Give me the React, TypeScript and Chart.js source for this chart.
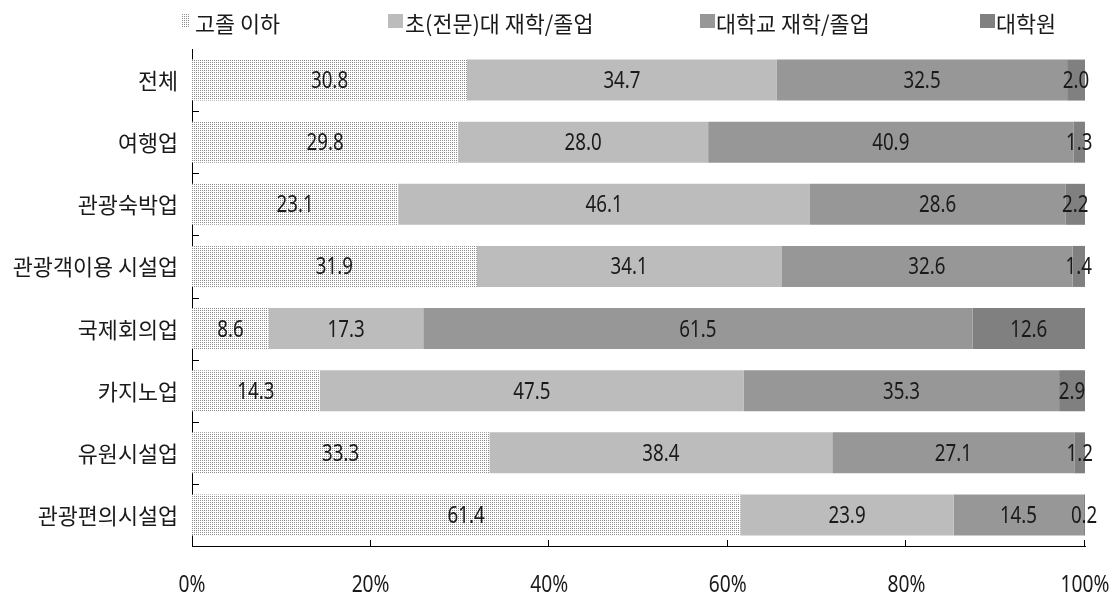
import React, { useEffect, useRef } from "react";
import { Chart, registerables } from "chart.js";

Chart.register(...registerables);

const categories = ["전체", "여행업", "관광숙박업", "관광객이용 시설업", "국제회의업", "카지노업", "유원시설업", "관광편의시설업"];
const seriesNames = ["고졸 이하", "초(전문)대 재학/졸업", "대학교 재학/졸업", "대학원"];
const highSchool = [30.8, 29.8, 23.1, 31.9, 8.6, 14.3, 33.3, 61.4];
const college = [34.7, 28.0, 46.1, 34.1, 17.3, 47.5, 38.4, 23.9];
const university = [32.5, 40.9, 28.6, 32.6, 61.5, 35.3, 27.1, 14.5];
const graduate = [2.0, 1.3, 2.2, 1.4, 12.6, 2.9, 1.2, 0.2];
const xTicks = [0, 20, 40, 60, 80, 100];

const KFONT = "'Noto Sans CJK KR', 'Noto Sans', sans-serif";
const NFONT = "'Noto Sans', 'Noto Sans CJK KR', sans-serif";
const TEXT = "#1a1a1a";
const colors = ["pattern", "#bcbcbc", "#979797", "#808080"];

function makePattern(): CanvasPattern | string {
  const c = document.createElement("canvas");
  c.width = 2;
  c.height = 2;
  const ctx = c.getContext("2d");
  if (!ctx) return "#e0e0e0";
  ctx.fillStyle = "#ffffff";
  ctx.fillRect(0, 0, 2, 2);
  ctx.fillStyle = "#8c8c8c";
  ctx.fillRect(0, 0, 1, 1);
  const p = ctx.createPattern(c, "repeat");
  return p || "#e0e0e0";
}

function squeezedText(ctx: any, text: string, x: number, y: number, align: string, sx: number) {
  ctx.save();
  ctx.translate(x, y);
  ctx.scale(sx, 1);
  ctx.textAlign = align;
  ctx.textBaseline = "alphabetic";
  ctx.fillText(text, 0, 0);
  ctx.restore();
}

const labelPlugin = {
  id: "segLabels",
  afterDatasetsDraw(chart: any) {
    const ctx = chart.ctx;
    ctx.save();
    ctx.font = `24px ${NFONT}`;
    ctx.fillStyle = TEXT;
    chart.data.datasets.forEach((ds: any, di: number) => {
      const meta = chart.getDatasetMeta(di);
      meta.data.forEach((bar: any, i: number) => {
        const v = ds.data[i];
        const cx = (bar.x + bar.base) / 2;
        squeezedText(ctx, v.toFixed(1), cx, bar.y + 8, "center", 0.78);
      });
    });
    ctx.restore();
  },
};

const axisPlugin = {
  id: "axisDecor",
  afterDraw(chart: any) {
    const ctx = chart.ctx;
    const xs = chart.scales.x;
    const ys = chart.scales.y;
    const area = chart.chartArea;
    ctx.save();
    ctx.strokeStyle = "#000";
    ctx.lineWidth = 1;
    xTicks.forEach((t) => {
      if (t === 0) return;
      const x = Math.round(xs.getPixelForValue(t)) - 0.5;
      ctx.beginPath();
      ctx.moveTo(x, area.bottom);
      ctx.lineTo(x, area.bottom - 6);
      ctx.stroke();
    });
    for (let i = 1; i < categories.length; i++) {
      const y = Math.round((ys.getPixelForValue(i - 1) + ys.getPixelForValue(i)) / 2) + 0.5;
      ctx.beginPath();
      ctx.moveTo(area.left, y);
      ctx.lineTo(area.left + 7, y);
      ctx.stroke();
    }
    ctx.fillStyle = TEXT;
    ctx.font = `24px ${NFONT}`;
    xTicks.forEach((t) => {
      squeezedText(ctx, `${t}%`, xs.getPixelForValue(t), 592, "center", 0.8);
    });
    ctx.font = `22px ${KFONT}`;
    categories.forEach((c, i) => {
      squeezedText(ctx, c, area.left - 14, ys.getPixelForValue(i) + 9, "right", 0.99);
    });
    ctx.restore();
  },
};

const legendPos = [
  { box: 181, text: 195, w: 8 },
  { box: 388, text: 405, w: 15 },
  { box: 700, text: 716, w: 15 },
  { box: 980, text: 996, w: 15 },
];

export default function App() {
  const ref = useRef<HTMLCanvasElement | null>(null);

  useEffect(() => {
    if (!ref.current) return;
    const pattern = makePattern();
    const data = [highSchool, college, university, graduate];
    const chart = new Chart(ref.current, {
      type: "bar",
      data: {
        labels: categories,
        datasets: seriesNames.map((n, i) => ({
          label: n,
          data: data[i],
          backgroundColor: i === 0 ? (pattern as any) : colors[i],
          borderWidth: 0,
          categoryPercentage: 1,
          barPercentage: 0.66,
        })),
      },
      options: {
        indexAxis: "y",
        animation: false,
        responsive: false,
        maintainAspectRatio: false,
        layout: { padding: { top: 49, right: 32, bottom: 0, left: 0 } },
        plugins: {
          legend: { display: false },
          tooltip: { enabled: false },
        },
        scales: {
          x: {
            stacked: true,
            min: 0,
            max: 100,
            afterFit: (s: any) => {
              s.height = 50;
              s.paddingLeft = 0;
              s.paddingRight = 0;
            },
            grid: { display: false, drawTicks: false },
            border: { display: true, color: "#000", width: 1 },
            ticks: { display: false },
          },
          y: {
            stacked: true,
            afterFit: (s: any) => {
              s.width = 192;
              s.paddingTop = 0;
              s.paddingBottom = 0;
            },
            grid: { display: false, drawTicks: false },
            border: { display: true, color: "#000", width: 1 },
            ticks: { display: false },
          },
        },
      },
      plugins: [labelPlugin, axisPlugin],
    });
    return () => chart.destroy();
  }, []);

  return (
    <div style={{ position: "absolute", left: 0, top: 0, width: 1117, height: 596, background: "#fff" }}>
      <canvas ref={ref} width={1117} height={596} style={{ position: "absolute", left: 0, top: 0 }} />
      {seriesNames.map((n, i) => (
        <div key={n}>
          <div
            style={{
              position: "absolute",
              left: legendPos[i].box,
              top: 14,
              width: legendPos[i].w,
              height: 14,
              background:
                i === 0
                  ? "repeating-conic-gradient(#8c8c8c 0 25%, #fff 0 100%) 0 0 / 2px 2px"
                  : colors[i],
            }}
          />
          <div
            style={{
              position: "absolute",
              left: legendPos[i].text,
              top: 7,
              fontFamily: KFONT,
              fontSize: 22,
              lineHeight: "30px",
              color: TEXT,
              whiteSpace: "nowrap",
              transform: "scaleX(0.99)",
              transformOrigin: "0 0",
            }}
          >
            {n}
          </div>
        </div>
      ))}
    </div>
  );
}
